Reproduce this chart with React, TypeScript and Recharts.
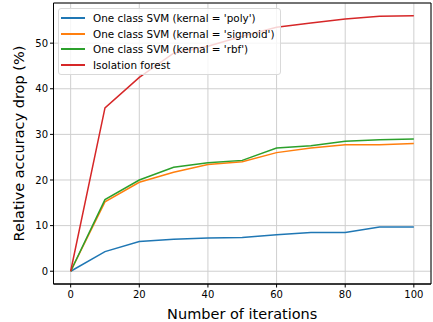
import React from 'react';
import { LineChart, Line, XAxis, YAxis, CartesianGrid, ReferenceArea, Label } from "recharts";

const iterations = [0, 10, 20, 30, 40, 50, 60, 70, 80, 90, 100];
const polyDrop = [0, 4.3, 6.5, 7.0, 7.3, 7.4, 8.0, 8.5, 8.5, 9.7, 9.7];
const sigmoidDrop = [0, 15.2, 19.5, 21.7, 23.4, 24.0, 26.0, 27.0, 27.7, 27.7, 28.0];
const rbfDrop = [0, 15.7, 20.0, 22.8, 23.8, 24.3, 27.0, 27.5, 28.5, 28.8, 29.0];
const forestDrop = [0, 35.8, 42.5, 47.8, 49.3, 51.5, 53.5, 54.4, 55.3, 55.9, 56.0];

const xTicks = [0, 20, 40, 60, 80, 100];
const yTicks = [0, 10, 20, 30, 40, 50];

const SERIES = [
  { key: "poly", name: "One class SVM (kernal = 'poly')", color: "#1f77b4" },
  { key: "sigmoid", name: "One class SVM (kernal = 'sigmoid')", color: "#ff7f0e" },
  { key: "rbf", name: "One class SVM (kernal = 'rbf')", color: "#2ca02c" },
  { key: "forest", name: "Isolation forest", color: "#d62728" },
];

const data = iterations.map((it, i) => ({
  it,
  poly: polyDrop[i],
  sigmoid: sigmoidDrop[i],
  rbf: rbfDrop[i],
  forest: forestDrop[i],
}));

const FONT = "DejaVu Sans, sans-serif";

// legend sits over the lines, like matplotlib's framed legend
const LegendBox = () => (
  <div style={{
    position: "absolute",
    left: 58,
    top: 8,
    background: "rgba(255,255,255,0.8)",
    border: "1px solid #d9d9d9",
    borderRadius: 3,
    padding: "1px 5px 1px 2px",
    fontFamily: FONT,
    fontSize: 10.4,
    color: "#000",
  }}>
    {SERIES.map(s => (
      <div key={s.key} style={{ display: "flex", alignItems: "center", height: 15.8 }}>
        <span style={{ display: "inline-block", width: 24, height: 2, background: s.color, marginRight: 8 }} />
        <span>{s.name}</span>
      </div>
    ))}
  </div>
);

const App: React.FC = () => {
  return (
    <div style={{ position: "absolute", left: 0, top: 0, width: 433, height: 322, background: "#fff" }}>
      <LineChart width={433} height={322} data={data} margin={{ top: 3, right: 2, left: 0, bottom: 0 }}>
        <CartesianGrid stroke="#cfcfcf" strokeWidth={1} />
        <XAxis
          dataKey="it"
          type="number"
          domain={[-5, 105]}
          ticks={xTicks}
          height={38}
          tickSize={3.5}
          tickLine={{ stroke: "#000" }}
          axisLine={{ stroke: "#000" }}
          tick={{ fill: "#000", fontSize: 10, fontFamily: FONT }}
          tickMargin={3}
        >
          <Label value="Number of iterations" position="insideBottom" offset={3} style={{ fill: "#000", fontSize: 14.5, fontFamily: FONT }} />
        </XAxis>
        <YAxis
          type="number"
          domain={[-2.8, 58.8]}
          ticks={yTicks}
          width={53.5}
          tickSize={3.5}
          tickLine={{ stroke: "#000" }}
          axisLine={{ stroke: "#000" }}
          tick={{ fill: "#000", fontSize: 10, fontFamily: FONT }}
          tickMargin={2}
          allowDataOverflow
        >
          <Label value="Relative accuracy drop (%)" angle={-90} position="insideLeft" offset={19} style={{ textAnchor: "middle", fill: "#000", fontSize: 14.5, fontFamily: FONT }} />
        </YAxis>
        {SERIES.map(s => (
          <Line
            key={s.key}
            type="linear"
            dataKey={s.key}
            name={s.name}
            stroke={s.color}
            strokeWidth={1.5}
            dot={false}
            isAnimationActive={false}
          />
        ))}
        <ReferenceArea x1={-5} x2={105} y1={-2.8} y2={58.8} fill="none" stroke="#000" strokeWidth={1} ifOverflow="visible" />
      </LineChart>
      <LegendBox />
    </div>
  );
};

export default App;
